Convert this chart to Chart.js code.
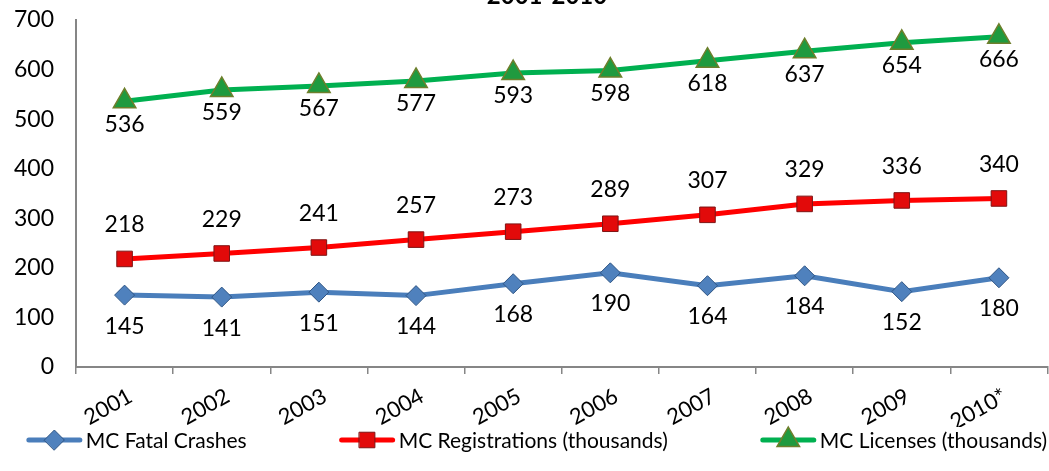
<!DOCTYPE html>
<html><head><meta charset="utf-8">
<script src="https://cdn.jsdelivr.net/npm/chart.js@4"></script>
<style>
html,body{margin:0;padding:0;overflow:hidden;background:#fff;width:1049px;height:471px}
#wrap{position:absolute;left:0;top:0;width:1062px;height:471px}
</style></head>
<body><div id="wrap"><canvas id="c"></canvas></div>
<script>
const years = ['2001','2002','2003','2004','2005','2006','2007','2008','2009','2010*'];
const fatalCrashes = [145,141,151,144,168,190,164,184,152,180];
const registrations = [218,229,241,257,273,289,307,329,336,340];
const licenses = [536,559,567,577,593,598,618,637,654,666];
const titleText = '2001-2010';
const FONT = 'Lato, "Open Sans", sans-serif';

const dataLabels = {
  id: 'dataLabels',
  afterDatasetsDraw(chart) {
    const ctx = chart.ctx;
    ctx.save();
    ctx.font = '23px ' + FONT;
    ctx.fillStyle = '#000';
    ctx.textAlign = 'center';
    ctx.textBaseline = 'middle';
    chart.data.datasets.forEach((ds, i) => {
      const meta = chart.getDatasetMeta(i);
      meta.data.forEach((el, j) => {
        ctx.fillText(String(ds.data[j]), el.x, el.y + ds.labelOffset);
      });
    });
    ctx.restore();
  }
};

const titleDraw = {
  id: 'titleDraw',
  afterDraw(chart) {
    const ctx = chart.ctx;
    ctx.save();
    ctx.font = 'bold 24px ' + FONT;
    ctx.fillStyle = '#000';
    ctx.textAlign = 'center';
    ctx.textBaseline = 'alphabetic';
    ctx.fillText(titleText, 547, 4);
    ctx.restore();
  }
};

const customLegend = {
  id: 'customLegend',
  afterDraw(chart) {
    const ctx = chart.ctx;
    ctx.save();
    ctx.font = '21px ' + FONT;
    const lineLen = 55, gapText = 4, gapItem = 93, y = 440;
    const items = chart.data.datasets.map(ds => ({ds, w: ctx.measureText(ds.label).width}));
    let total = 0;
    items.forEach((it, k) => { total += lineLen + gapText + it.w + (k ? gapItem : 0); });
    let x = 537 - total / 2;
    items.forEach(it => {
      const ds = it.ds;
      ctx.strokeStyle = ds.borderColor;
      ctx.lineWidth = 5;
      ctx.lineCap = 'round';
      ctx.beginPath();
      ctx.moveTo(x + 2, y);
      ctx.lineTo(x + lineLen - 2, y);
      ctx.stroke();
      ctx.fillStyle = ds.pointBackgroundColor;
      ctx.strokeStyle = ds.pointBorderColor;
      ctx.lineWidth = ds.pointBorderWidth;
      Chart.helpers.drawPoint(ctx, {pointStyle: ds.pointStyle, radius: ds.pointRadius, borderWidth: ds.pointBorderWidth, rotation: 0}, x + lineLen / 2, y);
      ctx.fillStyle = '#000';
      ctx.textAlign = 'left';
      ctx.textBaseline = 'middle';
      ctx.fillText(ds.label, x + lineLen + gapText, y + 1);
      x += lineLen + gapText + it.w + gapItem;
    });
    ctx.restore();
  }
};

new Chart(document.getElementById('c'), {
  type: 'line',
  data: {
    labels: years,
    datasets: [
      {label: 'MC Fatal Crashes', data: fatalCrashes, borderColor: '#4A7EBB', borderWidth: 5,
       pointStyle: 'rectRot', pointRadius: 10, pointHoverRadius: 10, pointBackgroundColor: '#4F81BD',
       pointBorderColor: '#2F5584', pointBorderWidth: 1, labelOffset: 31, tension: 0},
      {label: 'MC Registrations (thousands)', data: registrations, borderColor: '#FF0000', borderWidth: 5,
       pointStyle: 'rect', pointRadius: 11, pointHoverRadius: 11, pointBackgroundColor: '#E20A0A',
       pointBorderColor: '#7F1414', pointBorderWidth: 1, labelOffset: -34, tension: 0},
      {label: 'MC Licenses (thousands)', data: licenses, borderColor: '#00B050', borderWidth: 5,
       pointStyle: 'triangle', pointRadius: 13, pointHoverRadius: 13, pointBackgroundColor: '#1F9A3F',
       pointBorderColor: '#6E7F2C', pointBorderWidth: 1.5, labelOffset: 23, tension: 0}
    ]
  },
  options: {
    responsive: true,
    maintainAspectRatio: false,
    animation: false,
    layout: {padding: {top: 20, right: 2, bottom: 44, left: 0}},
    plugins: {legend: {display: false}, title: {display: false}, tooltip: {enabled: false}},
    scales: {
      x: {
        offset: true,
        grid: {display: true, drawOnChartArea: false, drawTicks: true, tickLength: 7, color: '#868686', lineWidth: 1.5, offset: true},
        border: {display: true, color: '#868686', width: 2},
        ticks: {color: '#000', font: {family: FONT, size: 22}, minRotation: 29, maxRotation: 29, padding: 9, labelOffset: 6, autoSkip: false},
        afterFit: s => { s.height = 60; }
      },
      y: {
        min: 0, max: 700,
        grid: {display: false, drawTicks: false},
        border: {display: true, color: '#868686', width: 2},
        ticks: {stepSize: 100, color: '#000', font: {family: FONT, size: 23}, padding: 22},
        afterFit: s => { s.width = 76; s.paddingTop = 0; s.paddingBottom = 0; }
      }
    }
  },
  plugins: [dataLabels, titleDraw, customLegend]
});
</script>
</body></html>
